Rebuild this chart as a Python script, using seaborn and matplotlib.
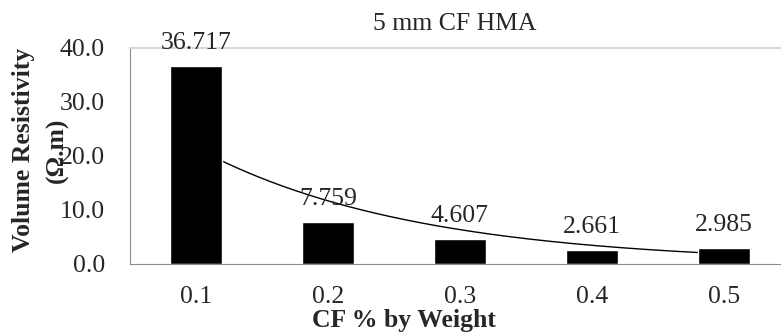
import numpy as np
import pandas as pd
import matplotlib
matplotlib.use("Agg")
import matplotlib.pyplot as plt
import seaborn as sns

cf_weight = ["0.1", "0.2", "0.3", "0.4", "0.5"]
resistivity = [36.717, 7.759, 4.607, 2.661, 2.985]

df = pd.DataFrame({"cf": cf_weight, "rho": resistivity})

sns.set_style("white")
plt.rcParams["font.family"] = ["Liberation Serif", "DejaVu Serif"]
FS = 18.5

fig = plt.figure(figsize=(7.81, 3.36), dpi=100)
ax = fig.add_axes([130 / 781, 1 - 264 / 336, 660 / 781, 216 / 336])

# exponential trendline (fit on category index like Excel does)
idx = np.arange(len(resistivity))
b, a = np.polyfit(idx, np.log(resistivity), 1)
xs = np.linspace(0, len(resistivity) - 1, 200)
ax.plot(xs, np.exp(a + b * xs), color="black", lw=1, zorder=1)

sns.barplot(data=df, x="cf", y="rho", color="black", width=0.4,
            saturation=1, ax=ax, zorder=2)

for i, v in enumerate(resistivity):
    ax.annotate(f"{v:.3f}", (i, v), xytext=(0, 12), textcoords="offset points",
                ha="center", va="baseline", fontsize=FS)

ax.set_xlim(-0.5, len(resistivity) - 0.5)
ax.set_ylim(0, 40)
ax.set_yticks([0, 10, 20, 30, 40])
ax.set_yticklabels([f"{t:.1f}" for t in [0, 10, 20, 30, 40]])
ax.set_xticks(idx)
ax.set_xticklabels(cf_weight)
ax.set_xticks(np.arange(-0.5, len(resistivity)), minor=True)
ax.tick_params(axis="x", which="major", length=0, labelsize=FS, pad=16)
ax.tick_params(axis="x", which="minor", length=7, color="#8c8c8c", width=1)
ax.tick_params(axis="y", length=7, color="#8c8c8c", width=1, labelsize=FS, pad=11)
ax.set_xlabel("")
ax.set_ylabel("")

for s in ["left", "bottom"]:
    ax.spines[s].set_color("#8c8c8c")
ax.spines["top"].set_color("#d9d9d9")
ax.spines["top"].set_linewidth(1.5)
ax.spines["right"].set_visible(False)

fig.text(455 / 781, 1 - 24 / 336, "5 mm CF HMA", ha="center", va="center", fontsize=FS)
fig.text(404 / 781, 1 - 321 / 336, "CF % by Weight", ha="center", va="center",
         fontsize=FS, fontweight="bold")
fig.text(24 / 781, 1 - 150 / 336, "Volume Resistivity", ha="center", va="center",
         rotation=90, fontsize=FS, fontweight="bold")
fig.text(57 / 781, 1 - 150 / 336, "(Ω.m)", ha="center", va="center",
         rotation=90, fontsize=FS, fontweight="bold")

fig.savefig("out.png", dpi=100)
